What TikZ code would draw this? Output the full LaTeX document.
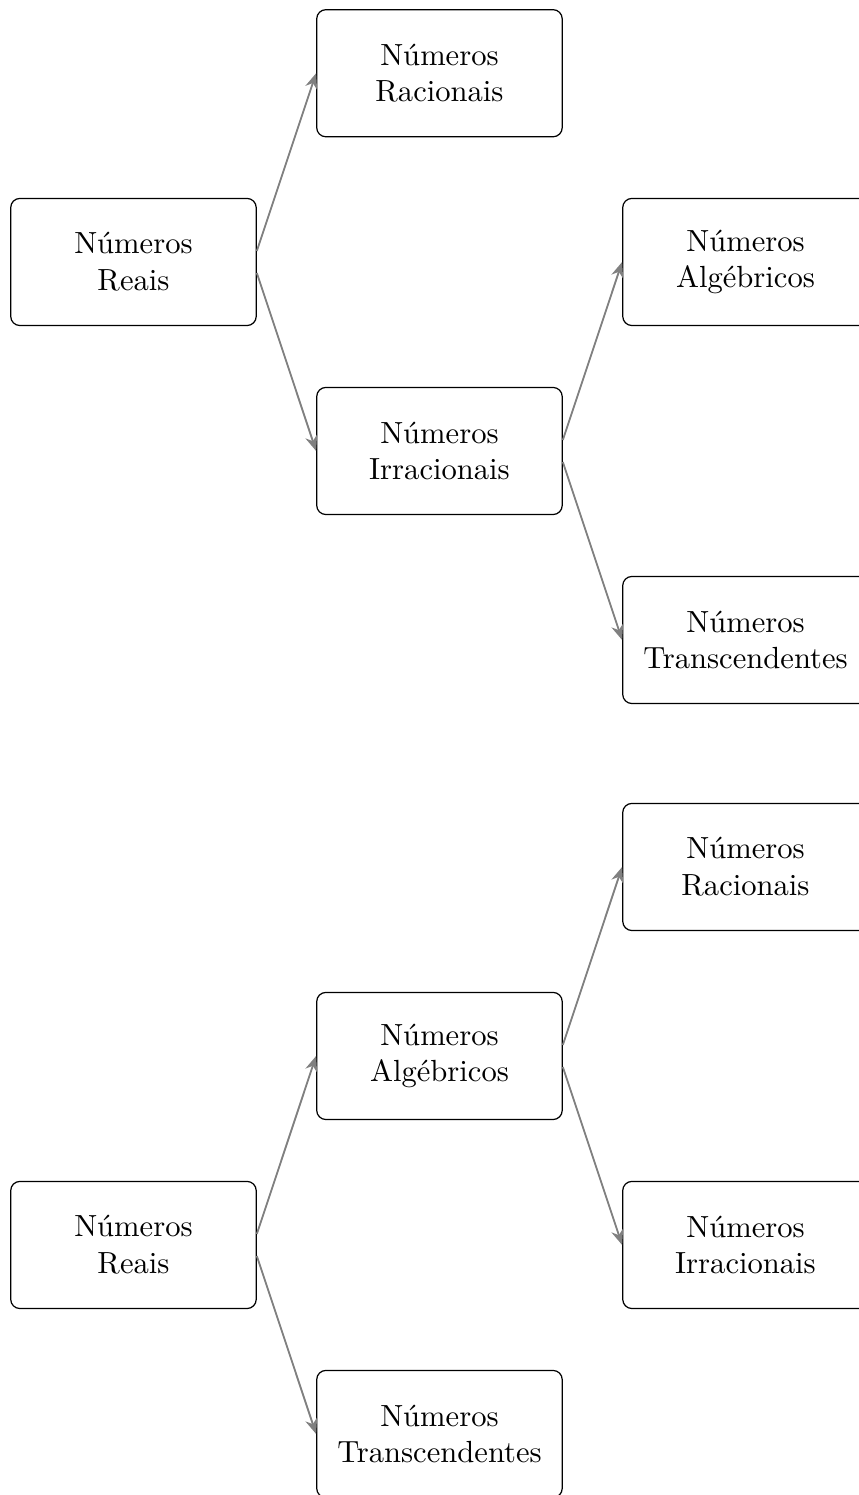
\documentclass[tikz,border=0pt]{standalone}
\usepackage{xcolor}
\usepackage{tikz}
\usetikzlibrary{arrows.meta, positioning}
\tikzset{
    numbox/.style={draw, rounded corners=3pt, minimum width=2.82cm, minimum height=1.46cm, align=center},
    seta/.style={-{Stealth[length=5pt, width=4pt]}, semithick, gray}
}

\begin{document}
\begin{tikzpicture}
    \useasboundingbox (0, 0) rectangle (9.866, -17.172);
    
    % Tree 1
    \node[numbox] (reaisA) at (1.533, -3.009) {Números\\Reais};
    \node[numbox] (racA) at (5.048, -0.841) {Números\\Racionais};
    \node[numbox] (irrA) at (5.048, -5.180) {Números\\Irracionais};
    \node[numbox] (algA) at (8.563, -3.009) {Números\\Algébricos};
    \node[numbox] (transA) at (8.563, -7.351) {Números\\Transcendentes};
    
    \draw[seta] ([yshift=3.6pt]reaisA.east) -- (racA.west);
    \draw[seta] ([yshift=-3.6pt]reaisA.east) -- (irrA.west);
    \draw[seta] ([yshift=3.6pt]irrA.east) -- (algA.west);
    \draw[seta] ([yshift=-3.6pt]irrA.east) -- (transA.west);
    
    % Tree 2
    \node[numbox] (reaisB) at (1.533, -14.300) {Números\\Reais};
    \node[numbox] (algB) at (5.048, -12.129) {Números\\Algébricos};
    \node[numbox] (transB) at (5.048, -16.471) {Números\\Transcendentes};
    \node[numbox] (racB) at (8.563, -9.958) {Números\\Racionais};
    \node[numbox] (irrB) at (8.563, -14.300) {Números\\Irracionais};
    
    \draw[seta] ([yshift=3.6pt]reaisB.east) -- (algB.west);
    \draw[seta] ([yshift=-3.6pt]reaisB.east) -- (transB.west);
    \draw[seta] ([yshift=3.6pt]algB.east) -- (racB.west);
    \draw[seta] ([yshift=-3.6pt]algB.east) -- (irrB.west);
    
\end{tikzpicture}
\end{document}
